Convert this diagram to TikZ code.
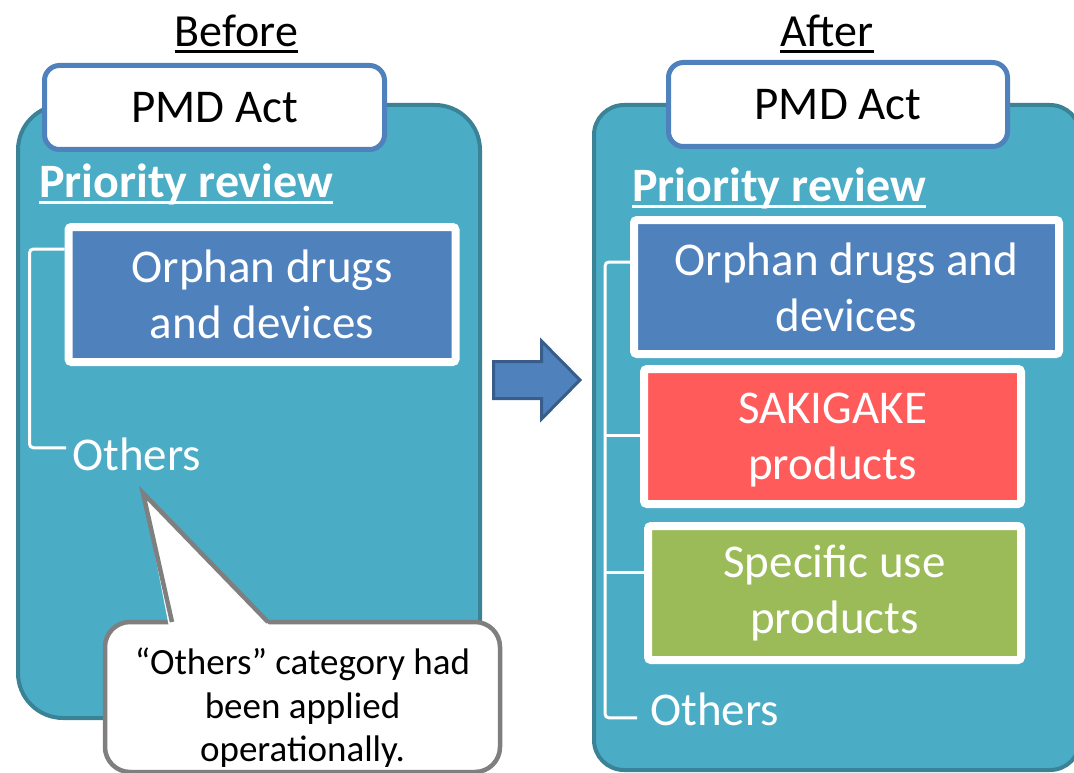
\documentclass[tikz,border=0pt]{standalone}
\usepackage{fontspec}
\setmainfont{Carlito}
\usetikzlibrary{calc}
\definecolor{panelfill}{HTML}{4BACC6}
\definecolor{paneledge}{HTML}{3A8397}
\definecolor{pmdedge}{HTML}{4F81BD}
\definecolor{boxblue}{HTML}{4F81BD}
\definecolor{boxred}{HTML}{FF5B5B}
\definecolor{boxgreen}{HTML}{9BBB59}
\definecolor{arrowedge}{HTML}{385D8A}
\definecolor{cgray}{HTML}{7F7F7F}
\begin{document}
\begin{tikzpicture}[x=1pt,y=-1pt,
  panelbox/.style={draw=paneledge, line width=4pt, fill=panelfill},
  pmdbox/.style={draw=pmdedge, line width=5pt, fill=white, rounded corners=15pt,
    inner sep=0pt, font=\fontsize{47}{56}\selectfont, text=black},
  titletxt/.style={inner sep=0pt, font=\fontsize{46}{55}\selectfont, text=black},
  priotxt/.style={inner sep=0pt, font=\fontsize{48}{57}\selectfont\bfseries, text=white},
  catbox/.style={draw=white, line width=8pt, rounded corners=3pt, inner sep=0pt,
    align=center, text=white, font=\fontsize{47}{56}\selectfont},
  othertxt/.style={inner sep=0pt, text=white, font=\fontsize{47}{56}\selectfont},
  bracket/.style={draw=white, line width=3pt, rounded corners=4pt},
  calloutbody/.style={draw=cgray, line width=4.5pt, fill=white, rounded corners=25pt, inner sep=0pt},
  callouttxt/.style={inner sep=0pt, align=center, text=black, font=\fontsize{37}{43.5}\selectfont},
  bigarrow/.style={draw=arrowedge, line width=3pt, fill=boxblue, line join=miter}
]
\useasboundingbox (0,0) rectangle (1074,773);
\clip (0,0) rectangle (1074,773);

% ---------------- Left panel (Before) ----------------
\node[panelbox, rounded corners=45pt, minimum width=462pt, minimum height=613pt, inner sep=0pt] (lpanel) at (249,411.5) {};
\node[pmdbox, minimum width=340pt, minimum height=84pt] (lpmd) at (214.5,107.5) {PMD Act};
\node[titletxt, anchor=base] (before) at (236.5,47) {Before};
\draw[line width=3pt] ([yshift=-5pt]before.base west) -- ([yshift=-5pt]before.base east);
\node[priotxt, anchor=base west] (lprio) at (39,197) {Priority review};
\draw[white, line width=3pt] ([yshift=-5pt]lprio.base west) -- ([yshift=-5pt]lprio.base east);

\node[catbox, fill=boxblue, minimum width=387pt, minimum height=135pt] (lorph) at (262,294.5) {Orphan drugs\\and devices};
\node[othertxt, anchor=base west] (lothers) at (72,470) {Others};
\draw[bracket] ([yshift=45.5pt]lorph.west) -- ++(-35,0) |- ([xshift=-6pt,yshift=6pt]lothers.west);

% callout
\node[calloutbody, minimum width=395pt, minimum height=150pt] (cbody) at (302.5,697) {};
\fill[white] (169,627) -- (143,493) -- (271,627) -- cycle;
\draw[cgray, line width=4.5pt, line join=miter] (172,622) -- (143,493) -- (268,622);
\node[callouttxt] (ctext) at ([yshift=-11pt]cbody.center) {“Others” category had\\been applied\\operationally.};

% ---------------- Arrow ----------------
\draw[bigarrow] (493.5,361.5) -- (541.5,361.5) -- (541.5,341) -- (580,380) -- (541.5,419) -- (541.5,398.5) -- (493.5,398.5) -- cycle;

% ---------------- Right panel (After) ----------------
\node[panelbox, rounded corners=30pt, minimum width=486pt, minimum height=665pt, inner sep=0pt] (rpanel) at (837,437.5) {};
\node[pmdbox, minimum width=339pt, minimum height=84pt] (rpmd) at (838,104.5) {PMD Act};
\node[titletxt, anchor=base] (after) at (827,47) {After};
\draw[line width=3pt] ([yshift=-5pt]after.base west) -- ([yshift=-5pt]after.base east);
\node[priotxt, anchor=base west] (rprio) at (632,201) {Priority review};
\draw[white, line width=3pt] ([yshift=-5pt]rprio.base west) -- ([yshift=-5pt]rprio.base east);

\node[catbox, fill=boxblue, minimum width=425pt, minimum height=134pt] (rorph) at (846.5,287) {Orphan drugs and\\devices};
\node[catbox, fill=boxred, minimum width=377pt, minimum height=135pt, text depth=0pt] (rsaki) at (832.5,436.5) {SAKIGAKE\\products};
\node[catbox, fill=boxgreen, minimum width=373pt, minimum height=134pt] (rspec) at (834.5,593) {Specific use\\products};
\node[othertxt, anchor=base west] (rothers) at (650,725) {Others};

\coordinate (rvtop) at ([xshift=-25pt,yshift=25pt]rorph.west);
\draw[bracket] ([yshift=25pt]rorph.west) -- (rvtop) |- ([xshift=-13pt,yshift=-9pt]rothers.west);
\draw[bracket, rounded corners=0pt] ([yshift=1.5pt]rsaki.west) -- ([yshift=1.5pt]rsaki.west -| rvtop);
\draw[bracket, rounded corners=0pt] ([yshift=21pt]rspec.west) -- ([yshift=21pt]rspec.west -| rvtop);
\end{tikzpicture}
\end{document}
